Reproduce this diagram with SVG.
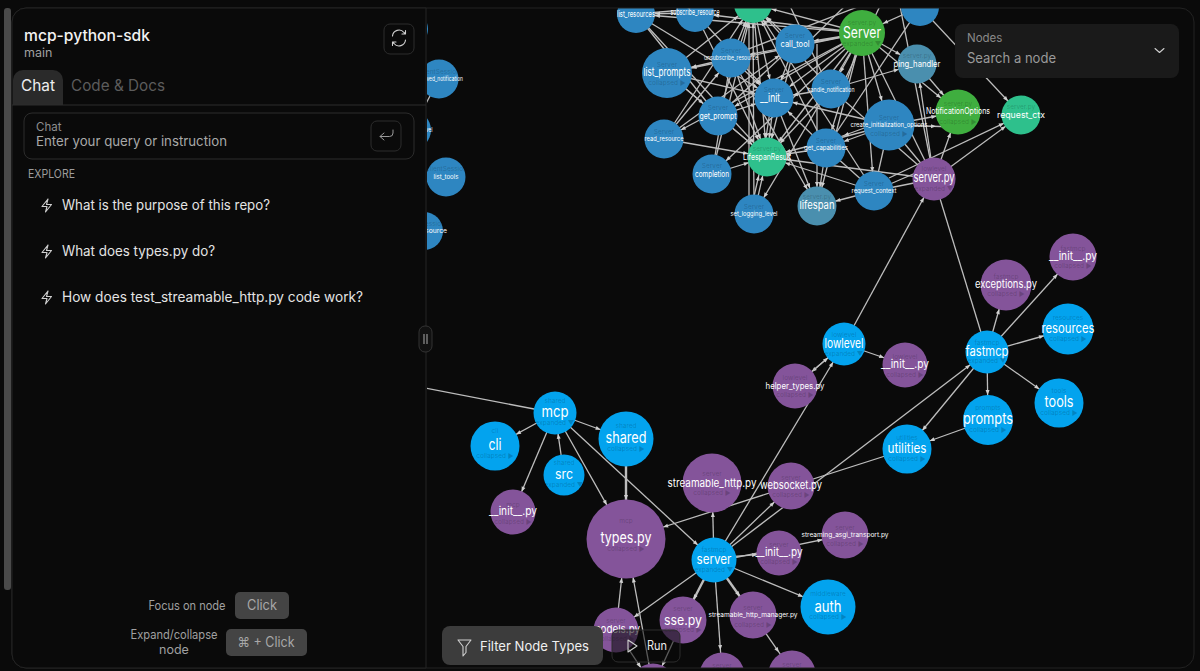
<svg xmlns="http://www.w3.org/2000/svg" width="1200" height="671" viewBox="0 0 1200 671">
<style>
text{font-family:Inter,"Noto Sans","Liberation Sans",sans-serif}
.e{stroke:#bdbdbd;stroke-width:1.3;fill:none}
.h{stroke-width:2.4}
.tp,.bt{text-anchor:middle;fill:#000;fill-opacity:.2;font-size:6.5px}
.m{text-anchor:middle;fill:#fff}
.s14{font-size:15.5px}.s12{font-size:13px}.s10{font-size:11px}.s8{font-size:8.5px}.s6{font-size:6.5px}
.bb{fill:#03a3ee}.bd{fill:#2e86c1}.pu{fill:#84549a}.gr{fill:#3fae3f}.te{fill:#2ec08c}.st{fill:#4a8fae}
.ic{fill:none;stroke:#d0d0d0;stroke-width:1.1;stroke-linecap:round;stroke-linejoin:round}
.p{font-size:14px;fill:#e4e4e4}
.q{font-size:12.5px;fill:#a0a0a0;text-anchor:middle}
.k{font-size:14px;fill:#a8a8a8;text-anchor:middle}
.kb{fill:#444}
</style>
<defs>
<marker id="a19" markerUnits="userSpaceOnUse" markerWidth="6" markerHeight="6" refX="19" refY="0" orient="auto" overflow="visible"><path d="M-5-2 0 0-5 2z" fill="#d0d0d0"/></marker>
<marker id="a20" markerUnits="userSpaceOnUse" markerWidth="6" markerHeight="6" refX="20" refY="0" orient="auto" overflow="visible"><path d="M-5-2 0 0-5 2z" fill="#d0d0d0"/></marker>
<marker id="a21" markerUnits="userSpaceOnUse" markerWidth="6" markerHeight="6" refX="21" refY="0" orient="auto" overflow="visible"><path d="M-5-2 0 0-5 2z" fill="#d0d0d0"/></marker>
<marker id="a22" markerUnits="userSpaceOnUse" markerWidth="6" markerHeight="6" refX="22" refY="0" orient="auto" overflow="visible"><path d="M-5-2 0 0-5 2z" fill="#d0d0d0"/></marker>
<marker id="a23" markerUnits="userSpaceOnUse" markerWidth="6" markerHeight="6" refX="23" refY="0" orient="auto" overflow="visible"><path d="M-5-2 0 0-5 2z" fill="#d0d0d0"/></marker>
<marker id="a24" markerUnits="userSpaceOnUse" markerWidth="6" markerHeight="6" refX="24" refY="0" orient="auto" overflow="visible"><path d="M-5-2 0 0-5 2z" fill="#d0d0d0"/></marker>
<marker id="a25" markerUnits="userSpaceOnUse" markerWidth="6" markerHeight="6" refX="25" refY="0" orient="auto" overflow="visible"><path d="M-5-2 0 0-5 2z" fill="#d0d0d0"/></marker>
<marker id="a27" markerUnits="userSpaceOnUse" markerWidth="6" markerHeight="6" refX="27" refY="0" orient="auto" overflow="visible"><path d="M-5-2 0 0-5 2z" fill="#d0d0d0"/></marker>
<marker id="a29" markerUnits="userSpaceOnUse" markerWidth="6" markerHeight="6" refX="29" refY="0" orient="auto" overflow="visible"><path d="M-5-2 0 0-5 2z" fill="#d0d0d0"/></marker>
<marker id="a39" markerUnits="userSpaceOnUse" markerWidth="6" markerHeight="6" refX="39" refY="0" orient="auto" overflow="visible"><path d="M-5-2 0 0-5 2z" fill="#d0d0d0"/></marker>
<clipPath id="gc"><rect x="427" y="8" width="767" height="660"/></clipPath>
</defs>
<rect width="1200" height="671" fill="#0a0a0a"/>
<g clip-path="url(#gc)">
<g id="connectors">
<line class="e" x1="862" y1="33" x2="636" y2="14" marker-end="url(#a19)"/>
<line class="e" x1="862" y1="33" x2="695" y2="13" marker-end="url(#a19)"/>
<line class="e" x1="862" y1="33" x2="795" y2="44" marker-end="url(#a19)"/>
<line class="e" x1="862" y1="33" x2="731" y2="58" marker-end="url(#a19)"/>
<line class="e" x1="862" y1="33" x2="667" y2="73" marker-end="url(#a25)"/>
<line class="e" x1="862" y1="33" x2="774" y2="98" marker-end="url(#a19)"/>
<line class="e" x1="862" y1="33" x2="831" y2="89" marker-end="url(#a19)"/>
<line class="e" x1="862" y1="33" x2="718" y2="116" marker-end="url(#a19)"/>
<line class="e" x1="862" y1="33" x2="664" y2="139" marker-end="url(#a19)"/>
<line class="e" x1="862" y1="33" x2="889" y2="125" marker-end="url(#a25)"/>
<line class="e" x1="862" y1="33" x2="826" y2="148" marker-end="url(#a19)"/>
<line class="e" x1="862" y1="33" x2="712" y2="174" marker-end="url(#a19)"/>
<line class="e" x1="862" y1="33" x2="754" y2="214" marker-end="url(#a19)"/>
<line class="e" x1="862" y1="33" x2="874" y2="191" marker-end="url(#a19)"/>
<line class="e" x1="862" y1="33" x2="817" y2="206" marker-end="url(#a19)"/>
<line class="e" x1="862" y1="33" x2="917" y2="64" marker-end="url(#a19)"/>
<line class="e" x1="862" y1="33" x2="958" y2="112" marker-end="url(#a22)"/>
<line class="e" x1="862" y1="33" x2="767" y2="157" marker-end="url(#a19)"/>
<line class="e" x1="862" y1="33" x2="753" y2="4" marker-end="url(#a19)"/>
<line class="e" x1="636" y1="14" x2="767" y2="157" marker-end="url(#a19)"/>
<line class="e" x1="667" y1="73" x2="767" y2="157" marker-end="url(#a19)"/>
<line class="e" x1="731" y1="58" x2="767" y2="157" marker-end="url(#a19)"/>
<line class="e" x1="695" y1="13" x2="767" y2="157" marker-end="url(#a19)"/>
<line class="e" x1="795" y1="44" x2="767" y2="157" marker-end="url(#a19)"/>
<line class="e" x1="774" y1="98" x2="767" y2="157" marker-end="url(#a19)"/>
<line class="e" x1="772" y1="98" x2="763" y2="157" marker-end="url(#a19)"/>
<line class="e" x1="831" y1="89" x2="767" y2="157" marker-end="url(#a19)"/>
<line class="e" x1="718" y1="116" x2="767" y2="157" marker-end="url(#a19)"/>
<line class="e" x1="664" y1="139" x2="767" y2="157" marker-end="url(#a19)"/>
<line class="e" x1="712" y1="174" x2="767" y2="157" marker-end="url(#a19)"/>
<line class="e" x1="826" y1="148" x2="767" y2="157" marker-end="url(#a19)"/>
<line class="e" x1="889" y1="125" x2="767" y2="157" marker-end="url(#a19)"/>
<line class="e" x1="754" y1="214" x2="767" y2="157" marker-end="url(#a19)"/>
<line class="e" x1="750" y1="214" x2="763" y2="157" marker-end="url(#a19)"/>
<line class="e" x1="874" y1="191" x2="767" y2="157" marker-end="url(#a19)"/>
<line class="e" x1="934" y1="179" x2="767" y2="157" marker-end="url(#a19)"/>
<line class="e" x1="753" y1="4" x2="767" y2="157" marker-end="url(#a19)"/>
<line class="e" x1="636" y1="14" x2="774" y2="98" marker-end="url(#a19)"/>
<line class="e" x1="695" y1="13" x2="774" y2="98" marker-end="url(#a19)"/>
<line class="e" x1="667" y1="73" x2="774" y2="98" marker-end="url(#a19)"/>
<line class="e" x1="731" y1="58" x2="774" y2="98" marker-end="url(#a19)"/>
<line class="e" x1="753" y1="4" x2="774" y2="98" marker-end="url(#a19)"/>
<line class="e" x1="795" y1="44" x2="774" y2="98" marker-end="url(#a19)"/>
<line class="e" x1="831" y1="89" x2="774" y2="98" marker-end="url(#a19)"/>
<line class="e" x1="889" y1="125" x2="774" y2="98" marker-end="url(#a19)"/>
<line class="e" x1="826" y1="148" x2="774" y2="98" marker-end="url(#a19)"/>
<line class="e" x1="718" y1="116" x2="774" y2="98" marker-end="url(#a19)"/>
<line class="e" x1="795" y1="44" x2="753" y2="4" marker-end="url(#a19)"/>
<line class="e" x1="731" y1="58" x2="753" y2="4" marker-end="url(#a19)"/>
<line class="e" x1="718" y1="116" x2="753" y2="4" marker-end="url(#a19)"/>
<line class="e" x1="754" y1="214" x2="753" y2="4" marker-end="url(#a19)"/>
<line class="e" x1="749" y1="214" x2="749" y2="4" marker-end="url(#a19)"/>
<line class="e" x1="712" y1="174" x2="753" y2="4" marker-end="url(#a19)"/>
<line class="e" x1="831" y1="89" x2="753" y2="4" marker-end="url(#a19)"/>
<line class="e" x1="664" y1="139" x2="753" y2="4" marker-end="url(#a19)"/>
<line class="e" x1="667" y1="73" x2="753" y2="4" marker-end="url(#a19)"/>
<line class="e" x1="636" y1="14" x2="753" y2="4" marker-end="url(#a19)"/>
<line class="e" x1="695" y1="13" x2="636" y2="14" marker-end="url(#a19)"/>
<line class="e" x1="826" y1="148" x2="753" y2="4" marker-end="url(#a19)"/>
<line class="e" x1="874" y1="191" x2="753" y2="4" marker-end="url(#a19)"/>
<line class="e" x1="774" y1="98" x2="817" y2="206" marker-end="url(#a19)"/>
<line class="e" x1="731" y1="58" x2="817" y2="206" marker-end="url(#a19)"/>
<line class="e" x1="826" y1="148" x2="817" y2="206" marker-end="url(#a19)"/>
<line class="e" x1="817" y1="44" x2="817" y2="206" marker-end="url(#a19)"/>
<line class="e" x1="874" y1="191" x2="817" y2="206" marker-end="url(#a19)"/>
<line class="e" x1="889" y1="125" x2="826" y2="148" marker-end="url(#a19)"/>
<line class="e" x1="889" y1="119" x2="826" y2="142" marker-end="url(#a19)"/>
<line class="e" x1="831" y1="89" x2="917" y2="64" marker-end="url(#a19)"/>
<line class="e" x1="826" y1="148" x2="874" y2="191"/>
<line class="e" x1="712" y1="174" x2="731" y2="58"/>
<line class="e" x1="664" y1="139" x2="731" y2="58" marker-end="url(#a19)"/>
<line class="e" x1="664" y1="139" x2="795" y2="44" marker-end="url(#a19)"/>
<line class="e" x1="718" y1="116" x2="795" y2="44"/>
<line class="e" x1="667" y1="73" x2="718" y2="116" marker-end="url(#a19)"/>
<line class="e" x1="731" y1="58" x2="667" y2="73" marker-end="url(#a25)"/>
<line class="e" x1="718" y1="116" x2="636" y2="14"/>
<line class="e" x1="860" y1="6" x2="720" y2="60"/>
<line class="e" x1="790" y1="6" x2="830" y2="90"/>
<line class="e" x1="920" y1="7" x2="826" y2="148"/>
<line class="e" x1="880" y1="6" x2="840" y2="90"/>
<line class="e" x1="845" y1="6" x2="800" y2="50"/>
<line class="e" x1="917" y1="64" x2="958" y2="112" marker-end="url(#a22)"/>
<line class="e" x1="934" y1="179" x2="917" y2="64" marker-end="url(#a19)"/>
<line class="e" x1="934" y1="179" x2="958" y2="112" marker-end="url(#a22)"/>
<line class="e" x1="934" y1="179" x2="1021" y2="115" marker-end="url(#a19)"/>
<line class="e" x1="889" y1="178" x2="1021" y2="115" marker-end="url(#a19)"/>
<line class="e" x1="920" y1="7" x2="1021" y2="115" marker-end="url(#a19)"/>
<line class="e" x1="889" y1="125" x2="958" y2="112" marker-end="url(#a22)"/>
<line class="e" x1="889" y1="125" x2="958" y2="127" marker-end="url(#a22)"/>
<line class="e" x1="934" y1="179" x2="889" y2="125"/>
<line class="e" x1="934" y1="179" x2="862" y2="33"/>
<line class="e" x1="934" y1="179" x2="831" y2="89"/>
<line class="e" x1="934" y1="179" x2="900" y2="6"/>
<line class="e" x1="874" y1="191" x2="934" y2="165"/>
<line class="e" x1="874" y1="191" x2="934" y2="179"/>
<line class="e" x1="874" y1="191" x2="889" y2="125"/>
<line class="e" x1="920" y1="7" x2="862" y2="33" marker-end="url(#a23)"/>
<line class="e" x1="439" y1="79" x2="412" y2="130"/>
<line class="e" x1="555" y1="413" x2="300" y2="364"/>
<line class="e" x1="555" y1="413" x2="495" y2="446" marker-end="url(#a24)"/>
<line class="e" x1="555" y1="413" x2="626" y2="439" marker-end="url(#a27)"/>
<line class="e" x1="555" y1="413" x2="513" y2="512" marker-end="url(#a22)"/>
<line class="e" x1="555" y1="413" x2="626" y2="539" marker-end="url(#a39)"/>
<line class="e" x1="555" y1="413" x2="714" y2="560" marker-end="url(#a22)"/>
<line class="e" x1="564" y1="475" x2="555" y2="413" marker-end="url(#a21)"/>
<line class="e h" x1="626" y1="439" x2="626" y2="539" marker-end="url(#a39)"/>
<line class="e" x1="907" y1="449" x2="626" y2="539" marker-end="url(#a39)"/>
<line class="e" x1="714" y1="560" x2="712" y2="483" marker-end="url(#a29)"/>
<line class="e" x1="714" y1="560" x2="791" y2="486" marker-end="url(#a23)"/>
<line class="e" x1="714" y1="560" x2="844" y2="344" marker-end="url(#a21)"/>
<line class="e" x1="714" y1="560" x2="987" y2="352" marker-end="url(#a21)"/>
<line class="e" x1="714" y1="558" x2="779" y2="553" marker-end="url(#a22)"/>
<line class="e" x1="714" y1="562" x2="845" y2="535" marker-end="url(#a23)"/>
<line class="e" x1="714" y1="560" x2="828" y2="607" marker-end="url(#a27)"/>
<line class="e" x1="714" y1="560" x2="616" y2="630" marker-end="url(#a22)"/>
<line class="e h" x1="714" y1="560" x2="683" y2="620" marker-end="url(#a23)"/>
<line class="e h" x1="714" y1="560" x2="753" y2="615" marker-end="url(#a23)"/>
<line class="e" x1="714" y1="560" x2="722" y2="672" marker-end="url(#a22)"/>
<line class="e" x1="753" y1="615" x2="792" y2="671" marker-end="url(#a23)"/>
<line class="e" x1="616" y1="630" x2="626" y2="539" marker-end="url(#a39)"/>
<line class="e" x1="653" y1="686" x2="626" y2="539" marker-end="url(#a39)"/>
<line class="e" x1="616" y1="630" x2="653" y2="686" marker-end="url(#a22)"/>
<line class="e" x1="683" y1="620" x2="653" y2="686" marker-end="url(#a22)"/>
<line class="e" x1="844" y1="344" x2="934" y2="179" marker-end="url(#a21)"/>
<line class="e" x1="844" y1="344" x2="795" y2="386" marker-end="url(#a22)"/>
<line class="e" x1="795" y1="386" x2="844" y2="344" marker-end="url(#a21)"/>
<line class="e" x1="844" y1="344" x2="905" y2="365" marker-end="url(#a22)"/>
<line class="e" x1="987" y1="352" x2="934" y2="179"/>
<line class="e" x1="987" y1="352" x2="1006" y2="285" marker-end="url(#a25)"/>
<line class="e" x1="987" y1="352" x2="1073" y2="257" marker-end="url(#a23)"/>
<line class="e" x1="987" y1="352" x2="1068" y2="329" marker-end="url(#a25)"/>
<line class="e" x1="987" y1="352" x2="1059" y2="403" marker-end="url(#a24)"/>
<line class="e" x1="987" y1="352" x2="988" y2="420" marker-end="url(#a25)"/>
<line class="e" x1="987" y1="352" x2="907" y2="449" marker-end="url(#a24)"/>
<line class="e" x1="988" y1="420" x2="907" y2="449" marker-end="url(#a24)"/>
</g>
<g id="n-list_resources"><circle class="bd" cx="636" cy="14" r="19"/><text class="m s8" x="636" y="17" textLength="38" lengthAdjust="spacingAndGlyphs">list_resources</text></g>
<g id="n-subscribe_resource"><circle class="bd" cx="695" cy="13" r="19"/><text class="m s8" x="695" y="15" textLength="49" lengthAdjust="spacingAndGlyphs">subscribe_resource</text></g>
<g id="n-top-teal"><circle class="te" cx="753" cy="4" r="19"/></g>
<g id="n-top-blue"><circle class="bd" cx="920" cy="7" r="19"/></g>
<g id="n-call_tool"><circle class="bd" cx="795" cy="44" r="19.5"/><text class="tp" x="795" y="38">Server</text><text class="m s8" x="795" y="47" textLength="29" lengthAdjust="spacingAndGlyphs">call_tool</text></g>
<g id="n-Server"><circle class="gr" cx="862" cy="33" r="23"/><text class="tp" x="862" y="25">server.py</text><text class="m s14" x="862" y="38" textLength="38" lengthAdjust="spacingAndGlyphs">Server</text><text class="bt" x="862" y="46">expanded ▼</text></g>
<g id="n-unsubscribe_resource"><circle class="bd" cx="731" cy="58" r="19.5"/><text class="tp" x="731" y="53">Server</text><text class="m s6" x="731" y="60" textLength="54" lengthAdjust="spacingAndGlyphs">unsubscribe_resource</text></g>
<g id="n-list_prompts"><circle class="bd" cx="667" cy="73" r="25"/><text class="tp" x="667" y="67">Server</text><text class="m s10" x="667" y="76" textLength="47" lengthAdjust="spacingAndGlyphs">list_prompts</text><text class="bt" x="667" y="85">collapsed ▶</text></g>
<g id="n-__init__"><circle class="bd" cx="774" cy="98" r="19.5"/><text class="tp" x="774" y="92">Server</text><text class="m s10" x="774" y="102" textLength="28" lengthAdjust="spacingAndGlyphs">__init__</text></g>
<g id="n-handle_notification"><circle class="bd" cx="831" cy="89" r="19.5"/><text class="tp" x="831" y="84">Server</text><text class="m s6" x="831" y="91.500" textLength="47" lengthAdjust="spacingAndGlyphs">handle_notification</text></g>
<g id="n-get_prompt"><circle class="bd" cx="718" cy="116" r="19.5"/><text class="tp" x="718" y="110">Server</text><text class="m s8" x="718" y="118.500" textLength="37" lengthAdjust="spacingAndGlyphs">get_prompt</text></g>
<g id="n-read_resource"><circle class="bd" cx="664" cy="139" r="19.5"/><text class="tp" x="664" y="134">Server</text><text class="m s6" x="664" y="141" textLength="39" lengthAdjust="spacingAndGlyphs">read_resource</text></g>
<g id="n-create_initialization_options"><circle class="bd" cx="889" cy="125" r="25.500"/><text class="tp" x="889" y="120">Server</text><text class="m s6" x="889" y="127" textLength="77" lengthAdjust="spacingAndGlyphs">create_initialization_options</text><text class="bt" x="889" y="136">collapsed ▶</text></g>
<g id="n-LifespanResult"><circle class="te" cx="767" cy="157" r="19.5"/><text class="tp" x="767" y="151">server.py</text><text class="m s8" x="767" y="159.500" textLength="48" lengthAdjust="spacingAndGlyphs">LifespanResult</text></g>
<g id="n-get_capabilities"><circle class="bd" cx="826" cy="148" r="19.5"/><text class="tp" x="826" y="143">Server</text><text class="m s6" x="826" y="150" textLength="44" lengthAdjust="spacingAndGlyphs">get_capabilities</text></g>
<g id="n-completion"><circle class="bd" cx="712" cy="174" r="19.5"/><text class="tp" x="712" y="168">Server</text><text class="m s8" x="712" y="176.500" textLength="34" lengthAdjust="spacingAndGlyphs">completion</text></g>
<g id="n-NotificationOptions"><circle class="gr" cx="958" cy="112" r="22.500"/><text class="tp" x="958" y="106">server.py</text><text class="m s8" x="958" y="114" textLength="64" lengthAdjust="spacingAndGlyphs">NotificationOptions</text><text class="bt" x="958" y="124">collapsed ▶</text></g>
<g id="n-request_ctx"><circle class="te" cx="1021" cy="115" r="19.5"/><text class="tp" x="1021" y="109">server.py</text><text class="m s8" x="1021" y="118" textLength="48" lengthAdjust="spacingAndGlyphs">request_ctx</text></g>
<g id="n-ping_handler"><circle class="st" cx="917" cy="64" r="19.5"/><text class="tp" x="917" y="58">server.py</text><text class="m s8" x="917" y="67" textLength="47" lengthAdjust="spacingAndGlyphs">ping_handler</text></g>
<g id="n-lowlevel-server.py"><circle class="pu" cx="934" cy="179" r="21.500"/><text class="tp" x="934" y="171">lowlevel</text><text class="m s12" x="934" y="182" textLength="41" lengthAdjust="spacingAndGlyphs">server.py</text><text class="bt" x="934" y="191">expanded ▼</text></g>
<g id="n-request_context"><circle class="bd" cx="874" cy="191" r="19.5"/><text class="tp" x="874" y="186">Server</text><text class="m s6" x="874" y="193" textLength="45" lengthAdjust="spacingAndGlyphs">request_context</text></g>
<g id="n-lifespan"><circle class="st" cx="817" cy="206" r="19.5"/><text class="tp" x="817" y="199">server.py</text><text class="m s10" x="817" y="209" textLength="35" lengthAdjust="spacingAndGlyphs">lifespan</text></g>
<g id="n-set_logging_level"><circle class="bd" cx="754" cy="214" r="19.5"/><text class="tp" x="754" y="209">Server</text><text class="m s6" x="754" y="216" textLength="47" lengthAdjust="spacingAndGlyphs">set_logging_level</text></g>
<g id="n-received_notification"><circle class="bd" cx="439" cy="79" r="19.5"/><text class="tp" x="439" y="74">ClientSession</text><text class="m s6" x="439" y="81" textLength="48" lengthAdjust="spacingAndGlyphs">received_notification</text></g>
<g id="n-left-top"><circle class="bd" cx="409" cy="29" r="19"/></g>
<g id="n-left-level"><circle class="bd" cx="412" cy="130" r="19"/><text class="m s6" x="412" y="132" textLength="41" lengthAdjust="spacingAndGlyphs">set_logging_level</text></g>
<g id="n-list_tools"><circle class="bd" cx="446" cy="177" r="19.5"/><text class="tp" x="446" y="171">ClientSession</text><text class="m s6" x="446" y="179" textLength="25" lengthAdjust="spacingAndGlyphs">list_tools</text></g>
<g id="n-left-resource"><circle class="bd" cx="424" cy="231" r="19"/><text class="tp" x="424" y="226">ClientSession</text><text class="m s6" x="424" y="233" textLength="46" lengthAdjust="spacingAndGlyphs">read_resource</text></g>
<g id="n-mcp"><circle class="bb" cx="555" cy="413" r="21.500"/><text class="tp" x="555" y="403">shared</text><text class="m s14" x="555" y="417" textLength="27" lengthAdjust="spacingAndGlyphs">mcp</text><text class="bt" x="555" y="425">expanded ▼</text></g>
<g id="n-cli"><circle class="bb" cx="495" cy="446" r="24.500"/><text class="tp" x="495" y="433">cli</text><text class="m s14" x="495" y="450" textLength="13" lengthAdjust="spacingAndGlyphs">cli</text><text class="bt" x="495" y="458">collapsed ▶</text></g>
<g id="n-shared"><circle class="bb" cx="626" cy="439" r="27.500"/><text class="tp" x="626" y="428">shared</text><text class="m s14" x="626" y="443" textLength="41" lengthAdjust="spacingAndGlyphs">shared</text><text class="bt" x="626" y="451">collapsed ▶</text></g>
<g id="n-src"><circle class="bb" cx="564" cy="475" r="20.500"/><text class="tp" x="564" y="465">shared</text><text class="m s12" x="564" y="479" textLength="18" lengthAdjust="spacingAndGlyphs">src</text><text class="bt" x="564" y="487">expanded ▼</text></g>
<g id="n-mcp-init"><circle class="pu" cx="513" cy="512" r="22.500"/><text class="tp" x="513" y="507">mcp</text><text class="m s10" x="513" y="515" textLength="48" lengthAdjust="spacingAndGlyphs">__init__.py</text><text class="bt" x="513" y="524">collapsed ▶</text></g>
<g id="n-types.py"><circle class="pu" cx="626" cy="539" r="39.500"/><text class="tp" x="626" y="523">mcp</text><text class="m s14" x="626" y="543" textLength="51" lengthAdjust="spacingAndGlyphs">types.py</text><text class="bt" x="626" y="551">collapsed ▶</text></g>
<g id="n-streamable_http.py"><circle class="pu" cx="712" cy="483" r="29.500"/><text class="tp" x="712" y="476">server</text><text class="m s10" x="712" y="487" textLength="89" lengthAdjust="spacingAndGlyphs">streamable_http.py</text><text class="bt" x="712" y="495">collapsed ▶</text></g>
<g id="n-websocket.py"><circle class="pu" cx="791" cy="486" r="23.500"/><text class="tp" x="791" y="480">server</text><text class="m s10" x="791" y="489" textLength="62" lengthAdjust="spacingAndGlyphs">websocket.py</text><text class="bt" x="791" y="497">collapsed ▶</text></g>
<g id="n-server"><circle class="bb" cx="714" cy="560" r="22.500"/><text class="tp" x="714" y="552">fastmcp</text><text class="m s12" x="714" y="564" textLength="35" lengthAdjust="spacingAndGlyphs">server</text><text class="bt" x="714" y="572">expanded ▼</text></g>
<g id="n-server-init"><circle class="pu" cx="779" cy="553" r="22.500"/><text class="tp" x="779" y="547">server</text><text class="m s10" x="779" y="556" textLength="47" lengthAdjust="spacingAndGlyphs">__init__.py</text><text class="bt" x="779" y="564">collapsed ▶</text></g>
<g id="n-streaming_asgi_transport.py"><circle class="pu" cx="845" cy="535" r="23.500"/><text class="tp" x="845" y="530">server</text><text class="m s6" x="845" y="537" textLength="87" lengthAdjust="spacingAndGlyphs">streaming_asgi_transport.py</text><text class="bt" x="845" y="546">collapsed ▶</text></g>
<g id="n-auth"><circle class="bb" cx="828" cy="607" r="27.500"/><text class="tp" x="828" y="596">middleware</text><text class="m s14" x="828" y="612" textLength="27" lengthAdjust="spacingAndGlyphs">auth</text><text class="bt" x="828" y="619">collapsed ▶</text></g>
<g id="n-sse.py"><circle class="pu" cx="683" cy="620" r="23.500"/><text class="tp" x="683" y="611">server</text><text class="m s12" x="683" y="625" textLength="38" lengthAdjust="spacingAndGlyphs">sse.py</text><text class="bt" x="683" y="632">collapsed ▶</text></g>
<g id="n-streamable_http_manager.py"><circle class="pu" cx="753" cy="615" r="23.500"/><text class="tp" x="753" y="610">server</text><text class="m s6" x="753" y="617" textLength="89" lengthAdjust="spacingAndGlyphs">streamable_http_manager.py</text><text class="bt" x="753" y="627">collapsed ▶</text></g>
<g id="n-models.py"><circle class="pu" cx="616" cy="630" r="22.500"/><text class="tp" x="616" y="623">server</text><text class="m s10" x="616" y="633" textLength="48" lengthAdjust="spacingAndGlyphs">models.py</text><text class="bt" x="616" y="641">collapsed ▶</text></g>
<g id="n-bottom-a"><circle class="pu" cx="722" cy="675" r="22.500"/><text class="tp" x="722" y="668">server</text></g>
<g id="n-bottom-b"><circle class="pu" cx="792" cy="674" r="23.500"/><text class="tp" x="792" y="667">server</text></g>
<g id="n-bottom-c"><circle class="pu" cx="653" cy="686" r="22.500"/></g>
<g id="n-lowlevel"><circle class="bb" cx="844" cy="344" r="21.500"/><text class="tp" x="844" y="337">lowlevel</text><text class="m s12" x="844" y="348" textLength="39" lengthAdjust="spacingAndGlyphs">lowlevel</text><text class="bt" x="844" y="356">expanded ▼</text></g>
<g id="n-lowlevel-init"><circle class="pu" cx="905" cy="365" r="22.500"/><text class="tp" x="905" y="359">lowlevel</text><text class="m s10" x="905" y="368" textLength="48" lengthAdjust="spacingAndGlyphs">__init__.py</text><text class="bt" x="905" y="377">collapsed ▶</text></g>
<g id="n-helper_types.py"><circle class="pu" cx="795" cy="386" r="22.500"/><text class="tp" x="795" y="380">lowlevel</text><text class="m s8" x="795" y="389" textLength="59" lengthAdjust="spacingAndGlyphs">helper_types.py</text><text class="bt" x="795" y="397">collapsed ▶</text></g>
<g id="n-fastmcp"><circle class="bb" cx="987" cy="352" r="21.500"/><text class="tp" x="987" y="345">fastmcp</text><text class="m s12" x="987" y="356" textLength="43" lengthAdjust="spacingAndGlyphs">fastmcp</text><text class="bt" x="987" y="363">expanded ▼</text></g>
<g id="n-exceptions.py"><circle class="pu" cx="1006" cy="285" r="25.500"/><text class="tp" x="1006" y="279">fastmcp</text><text class="m s10" x="1006" y="288" textLength="62" lengthAdjust="spacingAndGlyphs">exceptions.py</text><text class="bt" x="1006" y="296">collapsed ▶</text></g>
<g id="n-fastmcp-init"><circle class="pu" cx="1073" cy="257" r="23.500"/><text class="tp" x="1073" y="251">fastmcp</text><text class="m s10" x="1073" y="260" textLength="48" lengthAdjust="spacingAndGlyphs">__init__.py</text><text class="bt" x="1073" y="268">collapsed ▶</text></g>
<g id="n-resources"><circle class="bb" cx="1068" cy="329" r="25.500"/><text class="tp" x="1068" y="320">resources</text><text class="m s12" x="1068" y="333" textLength="53" lengthAdjust="spacingAndGlyphs">resources</text><text class="bt" x="1068" y="341">collapsed ▶</text></g>
<g id="n-tools"><circle class="bb" cx="1059" cy="403" r="24.500"/><text class="tp" x="1059" y="393">tools</text><text class="m s14" x="1059" y="407" textLength="29" lengthAdjust="spacingAndGlyphs">tools</text><text class="bt" x="1059" y="415">collapsed ▶</text></g>
<g id="n-prompts"><circle class="bb" cx="988" cy="420" r="25"/><text class="tp" x="988" y="410">prompts</text><text class="m s14" x="988" y="424" textLength="50" lengthAdjust="spacingAndGlyphs">prompts</text><text class="bt" x="988" y="432">collapsed ▶</text></g>
<g id="n-utilities"><circle class="bb" cx="907" cy="449" r="24.500"/><text class="tp" x="907" y="440">utilities</text><text class="m s12" x="907" y="453" textLength="39" lengthAdjust="spacingAndGlyphs">utilities</text><text class="bt" x="907" y="461">collapsed ▶</text></g>
</g>
<rect x="12" y="8" width="1182" height="660" rx="14" fill="none" stroke="#222"/>
<g id="search-panel">
<rect x="955" y="24" width="224" height="54" rx="8" fill="#1a1a1a"/>
<text x="967" y="42" font-size="11.500" fill="#8a8a8a">Nodes</text>
<text x="967" y="63" font-size="14" fill="#9a9a9a" textLength="89" lengthAdjust="spacingAndGlyphs">Search a node</text>
<path class="ic" d="M1155 48.500l4.500 4 4.500-4"/>
</g>
<g id="sidebar">
<rect x="4" y="8" width="7" height="582" rx="3" fill="#4a4a4a"/>
<path d="M426 8H26A14 14 0 0 0 12 22V654A14 14 0 0 0 26 668H426z" fill="#0a0a0a" stroke="#242424"/>
<text x="24" y="41" font-size="15.500" font-weight="500" fill="#f2f2f2" textLength="126" lengthAdjust="spacingAndGlyphs">mcp-python-sdk</text>
<text x="24" y="57" font-size="12.500" fill="#a0a0a0">main</text>
<rect x="384" y="24" width="30" height="30" rx="6" fill="none" stroke="#2c2c2c"/>
<path class="ic" d="M392.500 37a6.500 6.500 0 0 1 11.500-3.500l1.500 1.500M405.500 41a6.500 6.500 0 0 1-11.500 3.500l-1.500-1.500M405.500 31.500v3.500h-3.500M392.500 46.500V43h3.500" transform="translate(0 -1)"/>
<path d="M13 105V80a10 10 0 0 1 10-10h30a10 10 0 0 1 10 10v25z" fill="#2a2a2a"/>
<line x1="12" y1="105" x2="426" y2="105" stroke="#2c2c2c"/>
<text x="21" y="91" font-size="16" fill="#eee" textLength="34" lengthAdjust="spacingAndGlyphs">Chat</text>
<text x="71" y="91" font-size="15.500" fill="#5c5c5c" textLength="94" lengthAdjust="spacingAndGlyphs">Code &amp; Docs</text>
<rect x="24" y="113" width="390" height="46" rx="8" fill="none" stroke="#2c2c2c"/>
<text x="36" y="131" font-size="11.500" fill="#8e8e8e">Chat</text>
<text x="36" y="146" font-size="13.500" fill="#a8a8a8" textLength="191" lengthAdjust="spacingAndGlyphs">Enter your query or instruction</text>
<rect x="371" y="121" width="30" height="30" rx="6" fill="none" stroke="#2c2c2c"/>
<path d="M393 130v3a3.500 3.500 0 0 1-3.500 3.500H380M384 133l-4 3.500 4 3.500" fill="none" stroke="#9a9a9a" stroke-width="1" stroke-linecap="round" stroke-linejoin="round"/>
<text x="28" y="178" font-size="11.500" fill="#9c9c9c" textLength="47" lengthAdjust="spacingAndGlyphs">EXPLORE</text>
<path class="ic" d="M48 199l-6 7.500h5l-1.500 5.500 6-7.500h-5z"/>
<text class="p" x="62" y="210" textLength="208" lengthAdjust="spacingAndGlyphs">What is the purpose of this repo?</text>
<path class="ic" d="M48 245l-6 7.500h5l-1.500 5.500 6-7.500h-5z"/>
<text class="p" x="62" y="256" textLength="153" lengthAdjust="spacingAndGlyphs">What does types.py do?</text>
<path class="ic" d="M48 291l-6 7.500h5l-1.500 5.500 6-7.500h-5z"/>
<text class="p" x="62" y="302" textLength="301" lengthAdjust="spacingAndGlyphs">How does test_streamable_http.py code work?</text>
<text class="q" x="187" y="610" textLength="77" lengthAdjust="spacingAndGlyphs">Focus on node</text>
<rect class="kb" x="235" y="592" width="54" height="27" rx="5"/>
<text class="k" x="262" y="610" textLength="30" lengthAdjust="spacingAndGlyphs">Click</text>
<text class="q" x="174" y="639" textLength="87" lengthAdjust="spacingAndGlyphs">Expand/collapse</text>
<text class="q" x="174" y="654">node</text>
<rect class="kb" x="226" y="629" width="81" height="27" rx="5"/>
<text class="k" x="266" y="647" textLength="57" lengthAdjust="spacingAndGlyphs">⌘ + Click</text>
</g>
<g id="divider-handle">
<rect x="419" y="326" width="13" height="26" rx="6" fill="#111" stroke="#333"/>
<path d="M424 334v10M427 334v10" stroke="#888" stroke-width="1.300"/>
</g>
<g id="filter-button">
<rect x="442" y="626" width="161" height="39" rx="8" fill="#3c3c3c"/>
<path class="ic" d="M458 640h13l-5 6.500v6l-3 3.500v-9.500z" stroke-width="1.200"/>
<text x="480" y="651" font-size="13.500" fill="#f0f0f0" textLength="109" lengthAdjust="spacingAndGlyphs">Filter Node Types</text>
</g>
<g id="run-button">
<rect x="612" y="630" width="68" height="32" rx="6" fill="#0a0a0a" fill-opacity=".55" stroke="#2c2c2c"/>
<path class="ic" d="M628 640l9 6-9 6z" stroke-width="1.200"/>
<text x="647" y="650" font-size="12.500" fill="#eee" textLength="20" lengthAdjust="spacingAndGlyphs">Run</text>
</g>
</svg>
